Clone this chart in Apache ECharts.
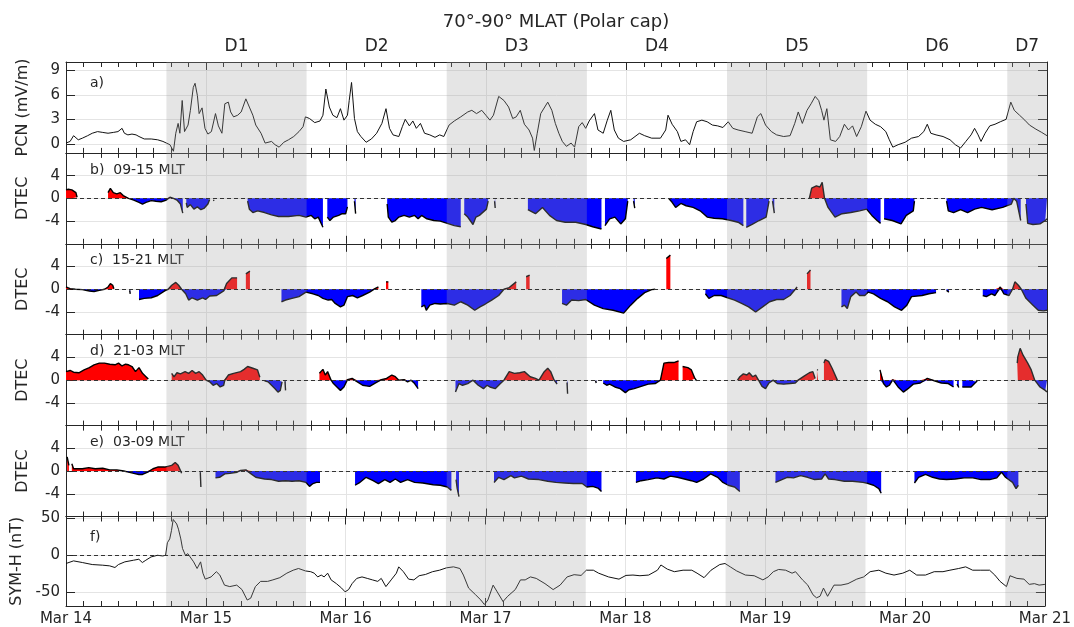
<!DOCTYPE html>
<html>
<head>
<meta charset="utf-8">
<script src="https://cdn.jsdelivr.net/npm/echarts@6.0.0/dist/echarts.min.js"></script>
<style>
html,body{margin:0;padding:0;background:#ffffff;}
#chart{width:1074px;height:627px;}
</style>
</head>
<body>
<div id="chart"></div>
<script>
// ---------------- data (x = hours since Mar 14 00 UT) ----------------
const titleText = '70°-90° MLAT (Polar cap)';
const dayLabels = ['Mar 14','Mar 15','Mar 16','Mar 17','Mar 18','Mar 19','Mar 20','Mar 21'];
const periodNames = ['D1','D2','D3','D4','D5','D6','D7'];
const periodEdges = [17.2,41.2,65.2,89.2,113.2,137.2,161.2,168];
const pcnTicks = [0,3,6,9];
const dtecTicks = [-4,0,4];
const symhTicks = [-50,0,50];
const panelLabels = ['a)','b)  09-15 MLT','c)  15-21 MLT','d)  21-03 MLT','e)  03-09 MLT','f)'];
const axisNames = ['PCN (mV/m)','DTEC','DTEC','DTEC','DTEC','SYM-H (nT)'];

const pcn = [[0,0.1],[0.7,0.3],[1.3,1.0],[2.1,0.5],[2.8,0.7],[3.7,1.0],[4.5,1.3],[5.4,1.5],[6.3,1.4],[7.2,1.3],[8.1,1.4],[8.9,1.5],[9.6,1.9],[10.0,1.3],[10.6,1.1],[11.3,1.2],[12.0,1.1],[12.5,0.9],[13.4,0.6],[14.6,0.6],[15.7,0.5],[16.6,0.3],[17.2,0.1],[17.8,-0.1],[18.4,-0.9],[18.8,1.3],[19.2,2.5],[19.5,1.3],[19.9,5.3],[20.3,1.5],[20.9,2.3],[21.3,4.1],[21.8,6.9],[22.1,7.4],[22.5,5.9],[22.8,3.7],[23.3,4.4],[23.8,1.9],[24.3,1.2],[24.9,1.5],[25.6,3.7],[26.1,2.2],[26.7,1.3],[27.2,4.9],[27.8,5.1],[28.2,3.9],[28.7,3.3],[29.4,3.5],[30.0,3.9],[30.8,5.5],[31.4,4.5],[32.0,3.5],[32.5,2.3],[33.4,1.3],[34.1,0.1],[35.2,0.3],[35.8,-0.1],[36.5,-0.4],[37.3,0.2],[38.1,0.5],[39.0,0.9],[39.9,1.5],[40.6,2.1],[41.0,3.3],[41.7,3.1],[42.6,2.6],[43.5,2.8],[44.0,3.5],[44.5,6.7],[45.1,4.5],[45.7,3.5],[46.4,3.2],[47.0,4.3],[47.6,2.9],[48.2,3.5],[48.5,5.3],[48.9,7.5],[49.4,3.1],[49.9,1.5],[50.5,0.9],[51.4,0.2],[52.3,0.6],[53.2,1.3],[54.1,2.5],[54.8,4.3],[55.4,1.9],[56.0,1.1],[57.0,0.9],[57.6,2.1],[58.1,3.0],[58.8,2.2],[59.4,2.8],[60.0,1.9],[60.7,2.5],[61.4,1.3],[62.3,1.1],[63.2,0.8],[64.0,1.1],[64.7,0.9],[65.6,2.3],[66.5,2.8],[67.6,3.3],[68.8,3.9],[69.5,4.1],[70.3,3.7],[71.2,4.1],[71.9,3.5],[72.6,2.9],[73.2,3.5],[74.1,5.8],[75.0,5.3],[75.8,4.5],[76.5,3.1],[77.1,3.3],[77.8,4.1],[78.5,2.4],[79.3,1.7],[79.9,0.7],[80.2,-0.8],[80.7,1.3],[81.3,3.7],[82.5,5.1],[83.2,4.1],[83.8,2.5],[84.4,1.3],[85.0,0.3],[85.7,-0.3],[86.5,0.1],[87.1,-0.4],[87.8,2.1],[88.4,2.6],[89.0,1.9],[89.6,2.8],[90.5,3.7],[91.1,1.7],[92.0,1.3],[92.7,2.9],[93.3,4.1],[93.9,1.7],[94.6,0.7],[95.5,0.3],[96.7,0.5],[98.2,1.3],[99.1,1.0],[100.3,0.7],[101.8,0.7],[102.7,1.7],[103.1,3.5],[103.8,2.4],[104.7,1.5],[105.3,0.3],[106.1,0.5],[106.8,-0.1],[107.4,1.5],[108.0,2.7],[108.9,2.9],[109.8,2.7],[110.7,2.3],[111.6,2.2],[112.5,2.0],[113.4,2.7],[114.2,1.9],[115.1,1.7],[116.3,1.5],[117.5,1.3],[118.4,3.3],[119.0,3.7],[119.8,2.3],[120.8,1.5],[121.7,1.1],[122.9,0.9],[124.0,1.0],[124.8,2.5],[125.4,3.9],[126.1,2.5],[126.9,4.1],[127.6,4.9],[128.3,5.8],[128.9,5.3],[129.4,4.1],[129.8,2.9],[130.3,4.3],[130.9,0.5],[131.8,0.3],[132.5,0.9],[133.3,2.4],[134.0,1.7],[134.7,2.2],[135.4,0.9],[136.2,2.1],[137.0,4.0],[137.7,2.9],[138.6,2.4],[139.5,2.1],[140.4,1.5],[141.0,0.5],[141.6,-0.4],[142.5,-0.1],[143.7,0.2],[144.8,0.7],[146.0,0.9],[146.9,1.5],[147.5,2.4],[148.1,1.3],[149.0,1.1],[150.2,0.9],[151.4,0.5],[152.3,-0.1],[153.2,-0.5],[154.1,0.3],[155.0,1.1],[155.6,1.9],[156.2,1.1],[156.7,0.3],[157.4,1.3],[158.2,2.2],[159.1,2.4],[160.0,2.7],[161.0,3.0],[161.8,5.1],[162.4,4.1],[163.3,3.5],[164.2,2.9],[165.0,2.3],[166.1,1.8],[167.1,1.4],[168.0,1.0]];

const dtec0915 = [[0,1.5],[0.4,1.6],[1.0,1.5],[1.7,1.0],[1.9,0.2],[2.0,null],
[7.2,1.0],[7.6,1.75],[8.1,1.0],[8.7,0.8],[9.3,1.0],[9.8,0.5],[10.7,0],[11.6,-0.3],[12.5,-0.7],[13.1,-1.0],[13.7,-0.7],[14.6,-0.4],[15.4,-0.5],[16.3,-0.6],[17.2,-0.3],[17.8,0.2],[18.4,0],[19.0,-0.3],[19.6,-1.0],[20.0,-2.6],[20.2,null],
[20.6,-0.8],[20.75,-1.6],[21.3,-1.1],[21.9,-1.9],[22.5,-1.5],[23.1,-2.0],[23.7,-1.7],[24.3,-1.0],[24.6,-0.2],[24.7,null],
[25.2,-0.3],[25.4,-0.4],[25.5,null],
[31.1,-0.5],[31.4,-1.9],[32.0,-2.5],[32.8,-2.2],[34.0,-2.5],[35.2,-2.9],[36.4,-3.2],[38.1,-3.2],[39.9,-3.0],[41.1,-3.3],[42.0,-3.0],[42.6,-3.6],[43.2,-3.3],[44.0,-5.1],[44.2,null],
[44.75,-3.3],[45.2,-3.9],[45.8,-3.3],[46.7,-3.0],[47.3,-2.7],[47.9,-2.7],[48.2,-1.5],[48.3,null],
[49.4,-0.5],[49.6,-2.7],[49.7,null],
[55.0,-1.0],[55.2,-3.3],[55.8,-4.2],[56.4,-3.9],[57.0,-3.3],[57.9,-3.0],[58.8,-3.3],[59.7,-3.0],[60.3,-3.6],[60.9,-3.0],[61.8,-3.6],[63.0,-3.9],[64.1,-4.0],[65.3,-4.4],[66.5,-4.8],[67.6,-5.0],[67.8,null],
[68.2,-2.7],[68.8,-3.3],[69.7,-4.6],[70.2,-3.3],[70.8,-3.0],[72.0,-1.9],[72.3,-0.5],[72.4,null],
[73.4,-0.5],[73.5,-1.7],[73.6,null],
[79.1,-2.0],[79.5,-2.2],[80.4,-2.7],[81.6,-1.6],[82.8,-3.0],[84.0,-3.9],[85.5,-4.2],[87.3,-4.2],[89.0,-4.6],[90.2,-5.0],[91.7,-5.4],[91.9,null],
[92.3,-4.8],[93.1,-3.6],[94.0,-3.3],[95.0,-4.5],[95.8,-3.6],[96.2,-0.5],[96.3,null],
[97.2,-0.5],[97.4,-1.7],[97.5,null],
[103.2,0],[103.8,-0.7],[104.4,-1.6],[105.3,-0.9],[106.2,-1.3],[107.4,-1.6],[108.6,-2.2],[109.8,-3.3],[111.0,-3.5],[112.4,-3.6],[113.9,-3.9],[115.1,-4.2],[116.0,-4.8],[116.2,null],
[116.5,-5.1],[117.5,-4.6],[118.7,-3.9],[119.9,-3.3],[120.4,-0.5],[120.5,null],
[121.0,-0.5],[121.3,-2.6],[121.4,null],
[127.3,0],[127.7,1.8],[128.5,2.2],[129.1,2.0],[129.5,2.8],[129.9,0],[130.5,-1.6],[131.7,-3.3],[132.9,-2.7],[134.4,-2.5],[135.9,-2.2],[137.1,-1.9],[138.0,-3.0],[138.9,-3.9],[139.5,-4.4],[139.7,null],
[140.1,-3.6],[141.5,-3.9],[143.0,-4.5],[143.9,-3.0],[145.1,-2.2],[145.3,-0.5],[145.4,null],
[150.8,-0.5],[151.1,-2.2],[152.0,-2.5],[153.2,-2.0],[154.4,-2.5],[155.6,-1.9],[156.8,-1.6],[158.6,-2.0],[160.4,-1.6],[161.9,-1.0],[162.3,0],[162.8,-0.5],[163.5,-3.9],[163.7,null],
[164.4,-1.0],[164.7,-4.4],[165.6,-4.6],[166.8,-4.5],[167.7,-3.9],[168,-3.6]];

const dtec1521 = [[0,0.4],[0.7,0.1],[1.6,0],[2.8,-0.06],[4.0,-0.3],[4.8,-0.4],[5.7,-0.2],[6.6,0],[7.2,0.4],[7.6,1.0],[8.0,0.7],[8.2,0.1],[8.3,null],
[10.9,-0.2],[11.0,-0.8],[11.1,null],
[12.5,-1.8],[13.4,-1.6],[14.6,-1.5],[15.7,-1.1],[16.9,-0.3],[17.5,0],[18.1,0.7],[18.8,1.2],[19.3,0.7],[19.8,0],[20.5,-0.8],[21.0,-1.9],[21.6,-1.5],[22.5,-1.9],[23.4,-1.5],[23.9,-1.8],[24.6,-1.2],[25.8,-1.1],[27.0,-0.3],[27.5,1.0],[28.4,2.0],[29.3,2.0],[29.5,null],
[30.8,2.7],[31.5,3.2],[31.8,null],
[36.9,-2.2],[37.6,-1.9],[38.7,-1.6],[39.9,-1.3],[41.1,-0.5],[42.3,-0.8],[43.2,-1.1],[44.0,-1.6],[44.9,-1.9],[45.5,-1.8],[46.1,-2.5],[47.0,-3.1],[47.6,-2.8],[48.2,-1.3],[49.1,-1.1],[49.9,-1.5],[50.8,-1.1],[52.0,-0.5],[52.9,0.1],[53.5,0.4],[53.6,null],
[54.8,1.3],[55.2,1.3],[55.4,null],
[60.85,-3.1],[61.4,-2.8],[61.7,-3.7],[62.3,-2.8],[63.2,-2.5],[64.1,-2.6],[65.3,-2.5],[66.5,-2.8],[67.6,-2.2],[68.8,-2.8],[70.0,-3.7],[70.9,-3.1],[71.8,-2.6],[72.9,-1.9],[74.1,-1.1],[75.0,0],[75.9,0.3],[77.1,1.3],[77.4,null],
[78.8,2.2],[79.4,2.5],[79.6,null],
[84.95,-2.5],[85.7,-2.8],[86.6,-1.9],[87.8,-2.0],[89.0,-1.8],[90.5,-2.8],[92.0,-3.4],[93.7,-3.7],[95.5,-4.2],[96.7,-2.8],[97.9,-1.6],[99.1,-0.6],[100.3,-0.06],[100.9,0],[101.0,null],
[102.8,5.4],[103.5,6.0],[103.7,null],
[109.5,-0.8],[110.1,-1.6],[111.0,-1.1],[112.2,-1.1],[113.3,-1.5],[114.5,-1.9],[115.7,-2.5],[116.9,-3.1],[118.1,-4.0],[119.3,-3.1],[120.5,-2.2],[121.7,-1.8],[122.9,-1.8],[124.0,-1.1],[124.9,0],[125.2,0.4],[125.3,null],
[126.9,2.7],[127.5,3.4],[127.7,null],
[132.8,-3.1],[133.3,-2.8],[133.8,-3.4],[134.4,-1.3],[135.3,-0.5],[135.9,-1.1],[136.8,-1.1],[137.4,-0.5],[138.3,-0.8],[139.5,-1.6],[140.7,-2.2],[141.9,-3.1],[143.1,-3.7],[144.0,-2.8],[144.8,-1.3],[146.6,-1.1],[147.8,-0.8],[149.0,-0.6],[149.3,null],
[150.8,-0.2],[151.2,-0.5],[151.4,null],
[157.0,-1.1],[157.6,-1.3],[158.5,-0.8],[159.1,-1.1],[160.0,0.4],[160.6,-0.8],[161.5,-1.1],[162.1,0],[162.5,1.3],[163.1,0.7],[163.6,0],[164.4,-1.6],[165.6,-2.8],[166.5,-3.7],[167.4,-3.8],[168,-3.7]];

const dtec2103 = [[0,1.5],[0.7,1.7],[1.3,1.4],[2.2,1.3],[3.1,1.8],[4.0,2.2],[4.8,2.7],[5.7,3.0],[6.6,3.0],[7.5,2.8],[8.4,2.7],[9.0,3.0],[9.6,2.5],[10.2,2.8],[10.7,2.7],[11.3,2.4],[11.9,1.5],[12.5,2.2],[13.1,1.2],[13.7,0.6],[14.1,0.2],[14.2,null],
[18.1,1.2],[18.5,0.6],[19.0,1.3],[19.6,1.1],[20.4,1.5],[21.0,1.2],[21.6,1.7],[22.2,1.2],[22.8,1.5],[23.4,0.9],[24.0,0],[24.6,-0.3],[25.2,-0.9],[25.8,-0.6],[26.4,-1.2],[27.0,-0.9],[27.2,0],[27.8,0.9],[28.7,1.2],[29.9,1.5],[30.5,1.9],[31.1,2.4],[32.0,2.1],[32.8,1.8],[33.2,0.5],[33.3,null],
[34.0,-0.1],[34.6,-0.3],[35.2,-0.9],[35.8,-1.5],[36.3,-2.1],[36.7,-1.8],[37.0,-0.3],[37.1,null],
[37.5,-0.2],[37.6,-1.8],[37.8,null],
[42.6,-0.2],[42.7,null],
[43.4,1.2],[44.0,1.9],[44.4,0.9],[44.8,1.5],[45.4,0],[45.8,-0.6],[46.4,-1.2],[47.0,-1.8],[47.6,-1.2],[48.2,0.1],[49.0,0.3],[49.9,-0.3],[50.8,-0.9],[52.0,-1.1],[52.8,-0.6],[54.0,0.1],[54.9,0.3],[55.8,0.9],[56.4,0.6],[57.0,0],[57.9,0.1],[58.5,-0.3],[59.1,0],[59.7,-0.6],[60.3,-1.5],[60.5,null],
[66.7,-2.1],[67.3,-0.6],[67.9,-0.9],[68.8,-0.6],[69.7,0],[70.6,-0.9],[71.5,-1.5],[72.1,-0.9],[72.6,-1.2],[73.5,-1.5],[74.4,-0.6],[75.0,0],[75.9,1.5],[76.8,1.2],[77.7,1.3],[78.5,1.5],[79.5,0.6],[80.4,0.3],[81.0,0],[81.9,1.5],[82.5,2.1],[83.0,1.5],[83.6,0],[84.1,-0.7],[84.2,null],
[85.8,-0.4],[85.9,-2.4],[86.0,null],
[90.7,-0.1],[90.8,-0.5],[90.9,null],
[92.0,-0.5],[92.6,-0.9],[93.1,-0.7],[94.0,-1.2],[94.9,-1.5],[95.8,-2.2],[96.4,-1.7],[97.3,-1.5],[98.5,-1.1],[99.7,-0.7],[100.9,-0.6],[101.8,0],[102.4,3.0],[103.2,3.1],[104.1,3.1],[104.9,3.4],[105.3,null],
[105.6,2.4],[106.5,2.2],[107.1,1.8],[107.7,0.3],[108.0,-0.1],[108.1,null],
[115.0,0],[115.4,0.6],[116.0,1.1],[116.6,0.9],[117.0,1.3],[117.6,0.6],[118.1,0.9],[118.6,0],[119.2,-1.1],[119.8,-1.5],[120.4,-0.5],[121.1,0],[121.8,-0.6],[122.9,-0.7],[124.0,-0.6],[124.9,-0.5],[125.5,0.1],[126.4,0.7],[127.3,1.3],[127.9,1.5],[128.3,0.3],[128.4,null],
[128.6,1.8],[128.8,1.8],[128.9,null],
[129.8,3.0],[130.0,3.6],[130.6,3.3],[131.2,2.1],[132.1,0],[132.2,null],
[139.0,0.6],[139.1,null],
[139.4,1.8],[140.0,-0.6],[140.5,-1.2],[141.0,-0.9],[141.6,0.1],[142.5,-1.2],[143.4,-2.1],[144.2,-1.5],[145.1,-0.7],[146.3,-0.5],[147.5,0.3],[148.7,-0.1],[149.9,-0.5],[151.1,-0.6],[152.0,-1.2],[152.2,null],
[152.6,-0.7],[152.9,-1.3],[153.1,null],
[153.5,-1.2],[153.8,-1.5],[155.0,-1.2],[155.9,-0.3],[156.1,0],[156.2,null],
[162.9,3.0],[163.0,4.1],[163.4,5.6],[163.9,4.4],[164.7,3.0],[165.3,1.8],[165.9,0],[166.8,-1.2],[167.7,-1.8],[168,-2.1]];

const dtec0309 = [[0.2,2.5],[0.5,1.0],[0.6,null],
[1.0,1.3],[1.3,0.4],[2.8,0.4],[3.9,0.6],[5.0,0.4],[6.3,0.5],[7.5,0.2],[8.7,0.2],[9.9,0],[10.7,-0.2],[11.6,-0.4],[12.5,-0.6],[13.1,-0.6],[14.0,-0.2],[14.9,0.4],[15.7,0.7],[16.9,0.7],[18.1,1.0],[18.7,1.5],[19.2,1.0],[19.6,0.1],[19.8,-0.4],[19.9,null],
[23.0,-0.2],[23.1,-2.8],[23.3,null],
[25.6,-1.2],[26.3,-1.1],[27.2,-0.5],[28.1,-0.4],[29.3,-0.2],[29.9,0.1],[30.8,0.2],[31.7,-0.5],[32.5,-1.1],[34.0,-1.4],[35.2,-1.5],[36.4,-1.8],[37.6,-1.7],[38.7,-1.8],[39.9,-1.7],[41.1,-2.0],[41.7,-2.7],[42.3,-2.2],[42.9,-2.0],[43.5,-2.0],[43.6,null],
[49.5,-2.5],[50.2,-2.1],[51.4,-1.1],[52.6,-1.7],[53.5,-2.2],[54.6,-1.5],[55.5,-2.0],[56.4,-1.4],[57.3,-2.0],[58.5,-1.5],[59.7,-2.0],[61.1,-2.1],[62.9,-2.4],[64.1,-2.5],[65.3,-2.8],[66.0,-3.4],[66.2,null],
[66.8,-1.5],[67.0,-3.1],[67.3,-4.5],[67.4,null],
[73.3,-2.0],[74.1,-1.1],[75.0,-1.5],[76.2,-0.8],[76.8,-1.2],[78.0,-0.9],[79.2,-1.4],[81.0,-1.5],[82.5,-1.8],[83.9,-2.0],[85.4,-2.1],[86.9,-2.2],[88.4,-2.2],[89.2,-2.8],[90.2,-2.7],[91.1,-3.0],[91.7,-3.6],[91.8,null],
[97.6,-2.0],[98.5,-1.7],[99.7,-1.5],[101.2,-1.2],[102.4,-1.4],[103.5,-0.9],[104.7,-1.1],[105.9,-1.4],[107.1,-1.7],[108.0,-2.0],[109.2,-1.4],[110.4,-0.5],[111.6,-1.1],[112.5,-2.0],[113.4,-2.5],[114.5,-2.8],[115.4,-3.6],[115.6,null],
[121.5,-2.0],[122.6,-1.5],[123.5,-1.1],[124.6,-1.2],[125.8,-0.8],[127.0,-1.1],[128.2,-1.5],[129.4,-1.4],[130.0,-0.5],[130.6,-1.4],[131.7,-1.5],[133.3,-1.8],[134.7,-1.8],[136.5,-2.0],[137.4,-2.2],[138.3,-2.5],[139.2,-3.1],[139.6,-3.9],[139.7,null],
[145.3,-2.1],[146.0,-1.1],[147.2,-0.6],[148.4,-1.1],[149.6,-1.4],[150.8,-1.5],[152.3,-1.4],[153.8,-1.2],[155.3,-1.2],[156.7,-1.5],[158.2,-1.5],[159.4,-1.2],[160.2,-0.2],[160.9,-1.1],[162.1,-2.0],[162.7,-3.1],[163.1,-2.5],[163.3,null]];

const symh = [[0,-11],[1.3,-7.5],[2.8,-9.7],[4.5,-12.4],[6.3,-13.3],[7.5,-14.2],[8.4,-16.4],[9.0,-12.4],[10.1,-8.8],[11.6,-6.6],[12.5,-5.3],[13.1,-9.7],[13.7,-6.6],[14.6,-2.2],[15.7,0],[16.6,-0.9],[17.1,0],[17.4,16.8],[17.8,22],[18.1,33],[18.4,48],[18.7,49],[19.0,42],[19.3,35],[19.7,22],[20.0,9],[20.5,0],[20.9,2.2],[21.3,-2.2],[21.9,-8.8],[22.5,-17.7],[23.1,-8.8],[23.5,-24],[23.9,-32],[24.9,-29],[25.8,-22],[26.4,-26.5],[27.2,-40],[28.1,-42],[29.3,-40],[30.2,-46],[31.1,-60],[31.7,-57.5],[32.5,-42],[33.4,-35],[34.6,-35],[35.5,-33],[36.7,-30],[37.9,-24],[39.0,-20],[39.9,-17.7],[41.1,-21],[42.0,-22],[42.6,-24],[43.2,-29],[43.8,-26.5],[44.3,-29],[44.9,-24],[45.5,-33],[46.4,-38],[47.3,-44],[47.9,-49],[48.5,-46],[49.1,-38],[49.9,-31],[50.8,-29],[51.7,-31],[52.6,-33],[53.5,-35],[54.1,-31],[54.9,-42],[55.8,-33],[56.7,-24],[57.1,-15.5],[57.9,-22],[58.8,-32],[59.7,-33],[60.6,-27.4],[61.7,-25.7],[62.9,-22],[64.1,-20],[65.3,-16.8],[66.5,-15.5],[67.6,-17.7],[68.2,-26.5],[69.1,-44],[70.3,-53],[71.2,-60],[71.8,-66],[72.4,-60],[73.3,-40],[74.0,-49],[75.0,-62],[75.8,-55],[77.1,-46],[78.0,-33],[78.8,-33],[79.7,-29],[80.7,-31],[82.2,-38],[83.6,-46],[84.8,-40],[86.0,-29],[87.2,-26],[88.4,-27],[89.3,-20],[90.5,-20],[91.4,-24],[93.1,-29],[94.9,-32],[96.1,-27],[97.3,-26.5],[98.5,-27.4],[100.0,-26.5],[101.5,-20],[102.1,-13],[103.2,-18.6],[104.4,-22],[105.9,-20],[107.4,-20],[108.3,-24],[109.5,-30],[110.7,-20],[112.2,-12.4],[113.1,-11],[114.0,-15.5],[115.1,-21],[116.6,-26.5],[118.1,-27.4],[119.6,-33],[120.5,-29],[121.4,-22],[122.3,-19],[123.5,-20],[124.6,-24],[125.2,-22],[126.4,-33],[127.3,-40],[128.2,-53],[128.8,-57],[129.4,-55],[130.0,-44],[130.7,-55],[131.8,-40],[133.0,-40],[134.2,-38],[135.7,-32],[136.9,-29],[138.0,-22],[139.5,-20],[140.7,-24],[142.1,-26.5],[143.6,-24],[144.8,-20],[146.0,-26.5],[147.5,-26.5],[149.0,-22],[150.5,-22],[151.7,-20],[153.2,-17.7],[154.4,-15.5],[155.6,-20],[157.0,-20],[158.5,-20],[159.4,-26.5],[160.3,-35],[161.4,-42],[162.0,-27.4],[163.2,-31],[164.4,-32],[165.3,-39],[166.2,-38],[167.0,-40],[168.0,-39]];

// ---------------- build ----------------
const FONT = 'DejaVu Sans';
const TXT = '#262626';
const AXC = '#262626';
const SPLIT = '#e4e4e4';
const SHADE = 'rgba(160,160,160,0.28)';
const GRID_LEFT = 66, GRID_W = 981, TOP0 = 62, PH = 90.9;

const panels = [
  {kind:'line', data:pcn, min:-1.1, max:10, ticks:pcnTicks, zero:false},
  {kind:'fill', data:dtec0915, min:-8, max:8, ticks:dtecTicks, zero:true},
  {kind:'fill', data:dtec1521, min:-8, max:8, ticks:dtecTicks, zero:true},
  {kind:'fill', data:dtec2103, min:-8, max:8, ticks:dtecTicks, zero:true},
  {kind:'fill', data:dtec0309, min:-8, max:8, ticks:dtecTicks, zero:true},
  {kind:'line', data:symh, min:-68, max:52, ticks:symhTicks, zero:true}
];

const norm = arr => arr.map(([h,v]) => [h, v == null ? '-' : v]);
const clipSign = (arr, s) => arr.map(([h,v]) => [h, v == null ? '-' : (s > 0 ? Math.max(v,0) : Math.min(v,0))]);

const grids = [], xAxes = [], yAxes = [], series = [], graphics = [];

panels.forEach((p, i) => {
  const top = TOP0 + i * PH;
  grids.push({left: GRID_LEFT, width: GRID_W, top: top, height: PH});
  const last = i === panels.length - 1;
  const xBase = {
    gridIndex: i, type: 'value', min: 0, max: 168, interval: 24,
    axisLine: {show: true, onZero: false, lineStyle: {color: AXC, width: 1}},
    axisTick: {show: true, inside: true, length: 8, lineStyle: {color: AXC}},
    minorTick: {show: true, splitNumber: 8, length: 5, lineStyle: {color: AXC}},
  };
  xAxes.push(Object.assign({}, xBase, {
    position: 'bottom',
    splitLine: {show: true, lineStyle: {color: SPLIT, width: 1}},
    axisLabel: {show: last, margin: 6, color: TXT, fontSize: 15, fontFamily: FONT,
      showMinLabel: true, showMaxLabel: true,
      formatter: v => dayLabels[Math.round(v / 24)]}
  }));
  xAxes.push(Object.assign({}, xBase, {
    position: 'top', splitLine: {show: false}, axisLabel: {show: false}
  }));
  const yBase = {
    gridIndex: i, type: 'value', min: p.min, max: p.max,
    axisLine: {show: true, onZero: false, lineStyle: {color: AXC, width: 1}},
    axisTick: {show: true, inside: true, length: 9, customValues: p.ticks, lineStyle: {color: AXC}},
  };
  yAxes.push(Object.assign({}, yBase, {
    position: 'left',
    name: axisNames[i], nameLocation: 'middle', nameGap: 35, nameRotate: 90,
    nameTextStyle: {fontSize: 16, color: TXT, fontFamily: FONT},
    axisLabel: {show: true, customValues: p.ticks, margin: 6, color: TXT, fontSize: 15, fontFamily: FONT},
    splitLine: {show: true, lineStyle: {color: SPLIT, width: 1}}
  }));
  yAxes.push(Object.assign({}, yBase, {
    position: 'right', axisLabel: {show: false}, splitLine: {show: false}
  }));
  const xi = 2 * i, yi = 2 * i;

  if (p.kind === 'line') {
    series.push({type: 'line', xAxisIndex: xi, yAxisIndex: yi, data: norm(p.data),
      symbol: 'none', showSymbol: false, z: 3, silent: true,
      lineStyle: {color: '#111', width: 1}});
  } else {
    series.push({type: 'line', xAxisIndex: xi, yAxisIndex: yi, data: clipSign(p.data, 1),
      symbol: 'none', showSymbol: false, z: 2, silent: true,
      lineStyle: {width: 0, opacity: 0}, areaStyle: {color: '#ff0000', opacity: 1, origin: 'auto'}});
    series.push({type: 'line', xAxisIndex: xi, yAxisIndex: yi, data: clipSign(p.data, -1),
      symbol: 'none', showSymbol: false, z: 2, silent: true,
      lineStyle: {width: 0, opacity: 0}, areaStyle: {color: '#0000ff', opacity: 1, origin: 'auto'}});
    series.push({type: 'line', xAxisIndex: xi, yAxisIndex: yi, data: norm(p.data),
      symbol: 'none', showSymbol: false, z: 3, silent: true,
      lineStyle: {color: '#000', width: 1.4}});
  }

  // shading of the D periods (drawn on top, semi-transparent) + zero line
  const areaData = periodNames.map((nm, k) => [
    {name: nm, xAxis: periodEdges[k], itemStyle: {color: k % 2 === 0 ? SHADE : 'rgba(0,0,0,0)'}},
    {xAxis: periodEdges[k + 1]}
  ]);
  const overlay = {
    type: 'line', xAxisIndex: xi, yAxisIndex: yi, data: [], z: 10, silent: true,
    markArea: {silent: true, z: 10, data: areaData,
      label: i === 0 ? {show: true, position: 'top', distance: 7, formatter: '{b}', color: TXT, fontSize: 17, fontFamily: FONT}
                     : {show: false},
      emphasis: {disabled: true}}
  };
  if (p.zero) {
    overlay.markLine = {silent: true, z: 11, symbol: ['none', 'none'], label: {show: false},
      lineStyle: {color: '#333', width: 1, type: [4, 3]}, emphasis: {disabled: true},
      data: [{yAxis: 0}]};
  }
  series.push(overlay);

  const labY = (i === 0 || i === 5) ? top + 21 : top + 17;
  graphics.push({type: 'text', x: 90, y: labY, silent: true,
    style: {text: panelLabels[i], fill: TXT, font: '14px "DejaVu Sans"',
      align: 'left', textAlign: 'left', verticalAlign: 'middle', textVerticalAlign: 'middle'}});
});

graphics.push({type: 'text', x: 556, y: 22, silent: true,
  style: {text: titleText, fill: TXT, font: '18px "DejaVu Sans"',
    align: 'center', textAlign: 'center', verticalAlign: 'middle', textVerticalAlign: 'middle'}});

const chart = echarts.init(document.getElementById('chart'), null, {renderer: 'canvas', width: 1074, height: 627});
chart.setOption({
  animation: false,
  backgroundColor: '#ffffff',
  textStyle: {fontFamily: FONT},
  grid: grids, xAxis: xAxes, yAxis: yAxes, series: series, graphic: graphics
});
</script>
</body>
</html>
